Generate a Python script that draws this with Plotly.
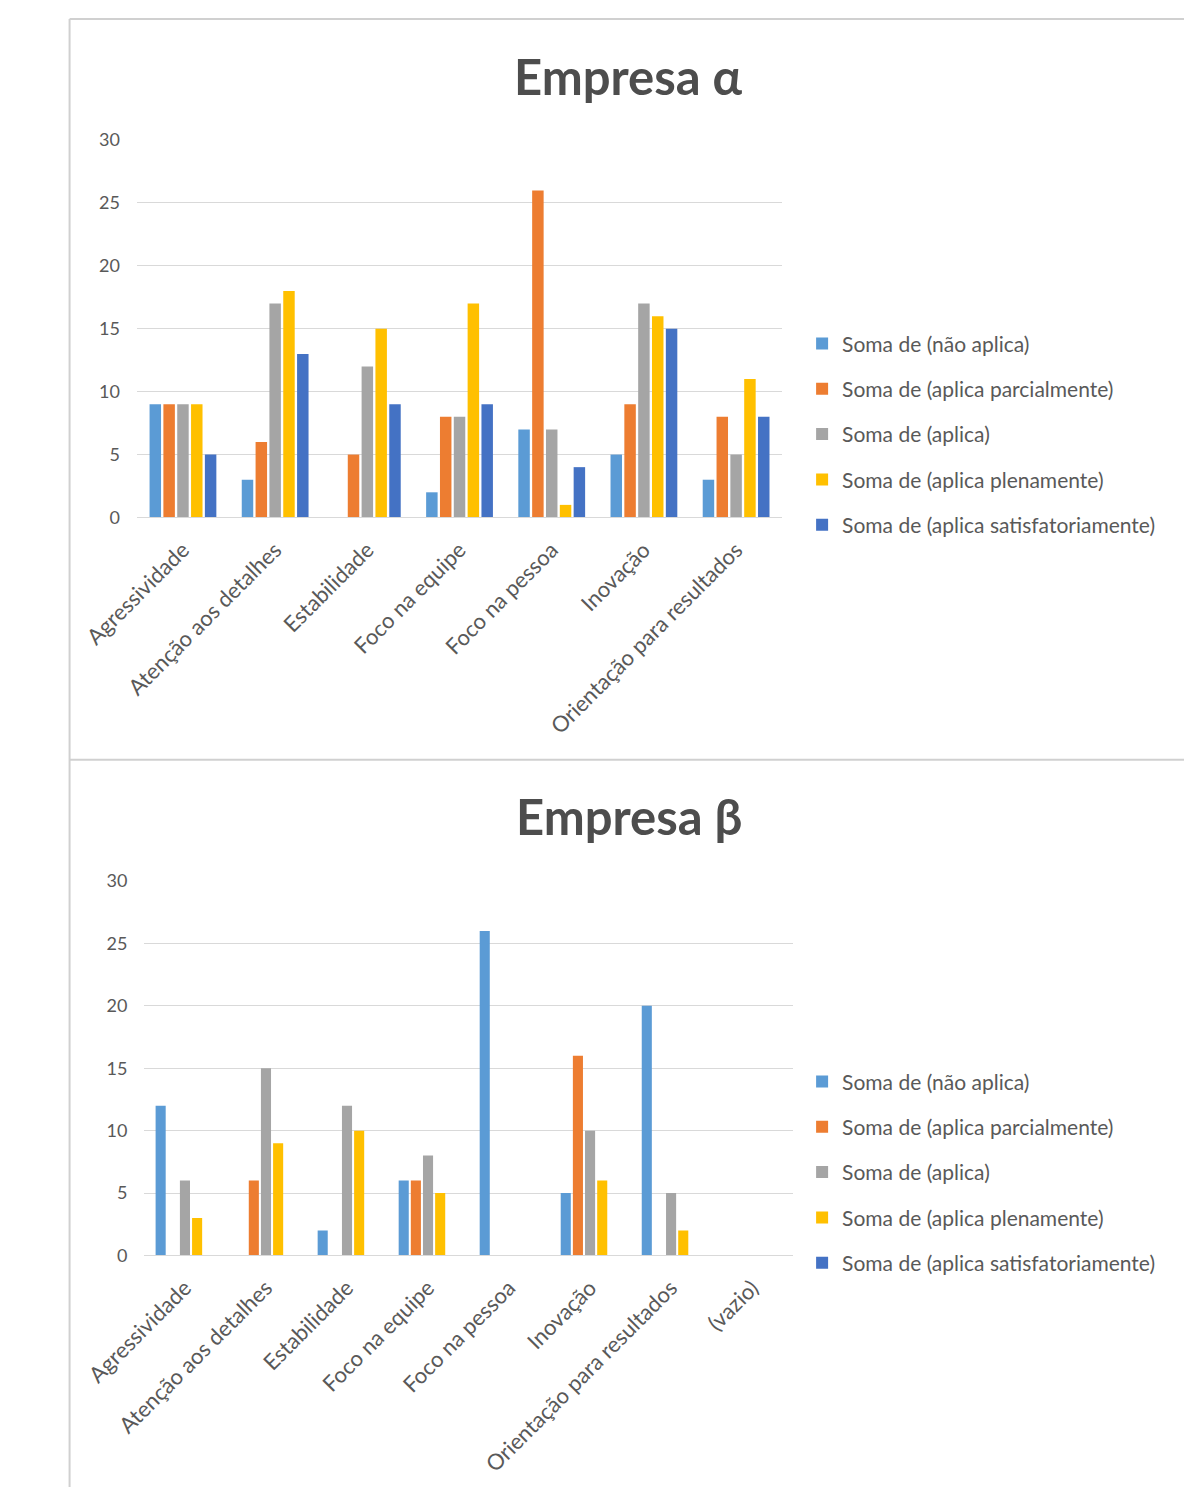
import plotly.graph_objects as go

# Categories for each company
categorias_alfa = ["Agressividade", "Atenção aos detalhes", "Estabilidade", "Foco na equipe",
                   "Foco na pessoa", "Inovação", "Orientação para resultados"]
categorias_beta = ["Agressividade", "Atenção aos detalhes", "Estabilidade", "Foco na equipe",
                   "Foco na pessoa", "Inovação", "Orientação para resultados", "(vazio)"]

series_nomes = ["Soma de (não aplica)", "Soma de (aplica parcialmente)", "Soma de (aplica)",
                "Soma de (aplica plenamente)", "Soma de (aplica satisfatoriamente)"]

# Empresa α values per series
alfa_nao_aplica = [9, 3, None, 2, 7, 5, 3]
alfa_parcial = [9, 6, 5, 8, 26, 9, 8]
alfa_aplica = [9, 17, 12, 8, 7, 17, 5]
alfa_plena = [9, 18, 15, 17, 1, 16, 11]
alfa_satisf = [5, 13, 9, 9, 4, 15, 8]

# Empresa β values per series
beta_nao_aplica = [12, None, 2, 6, 26, 5, 20, None]
beta_parcial = [None, 6, None, 6, None, 16, None, None]
beta_aplica = [6, 15, 12, 8, None, 10, 5, None]
beta_plena = [3, 9, 10, 5, None, 6, 2, None]
beta_satisf = [None, None, None, None, None, None, None, None]

y_ticks = [0, 5, 10, 15, 20, 25, 30]

cores = ["#5B9BD5", "#ED7D31", "#A5A5A5", "#FFC000", "#4472C4"]

W, H = 1184, 1497
FONT = "Lato"
TXT = "#595959"


def px(x):
    return x / W


def py(y):
    return 1 - y / H


fig = go.Figure()

alfa = [alfa_nao_aplica, alfa_parcial, alfa_aplica, alfa_plena, alfa_satisf]
beta = [beta_nao_aplica, beta_parcial, beta_aplica, beta_plena, beta_satisf]

for i, (nome, vals) in enumerate(zip(series_nomes, alfa)):
    fig.add_trace(go.Bar(x=categorias_alfa, y=vals, name=nome, marker_color=cores[i],
                         marker_line_width=0, xaxis="x", yaxis="y",
                         legend="legend", legendgroup=f"a{i}"))

for i, (nome, vals) in enumerate(zip(series_nomes, beta)):
    fig.add_trace(go.Bar(x=categorias_beta, y=vals, name=nome, marker_color=cores[i],
                         marker_line_width=0, xaxis="x2", yaxis="y2",
                         legend="legend2", legendgroup=f"b{i}"))

eixo_y = dict(range=[0, 30], tickvals=y_ticks, showgrid=True, gridcolor="#D9D9D9",
              gridwidth=1, zeroline=False, showline=False, ticks="",
              tickfont=dict(family=FONT, size=18, color=TXT), ticklabelstandoff=16)
eixo_x = dict(showgrid=False, showline=True, linecolor="#D9D9D9", linewidth=1,
              ticks="", tickangle=-45, ticklabelstandoff=10,
              tickfont=dict(family=FONT, size=22, color=TXT))

legenda = dict(x=px(781), xanchor="left", yanchor="top", bgcolor="rgba(0,0,0,0)",
               font=dict(family=FONT, size=21, color=TXT), tracegroupgap=15,
               itemwidth=30)

fig.update_layout(
    width=W, height=H,
    margin=dict(l=0, r=0, t=0, b=0),
    paper_bgcolor="white", plot_bgcolor="white",
    barmode="group", bargap=0.25, bargroupgap=0.17,
    xaxis=dict(domain=[px(79), px(760)], anchor="y", **eixo_x),
    yaxis=dict(domain=[py(513), py(130)], anchor="x", **eixo_y),
    xaxis2=dict(domain=[px(87), px(771)], anchor="y2", **eixo_x),
    yaxis2=dict(domain=[py(1262), py(882)], anchor="x2", **eixo_y),
    legend=dict(y=py(316), **legenda),
    legend2=dict(y=py(1065), **legenda),
    showlegend=True,
)

# Chart titles
for texto, yc in [("Empresa α", 65), ("Empresa β", 816)]:
    fig.add_annotation(text=f"<b>{texto}</b>", x=px(598), y=py(yc), xref="paper", yref="paper",
                       xanchor="center", yanchor="middle", showarrow=False,
                       font=dict(family=FONT, size=49, color="#4D4D4D"))

# Chart area frames
borda = dict(color="#D0D0D0", width=2)
fig.add_shape(type="line", xref="paper", yref="paper", x0=px(8), x1=1, y0=py(7), y1=py(7), line=borda)
fig.add_shape(type="line", xref="paper", yref="paper", x0=px(8), x1=px(8), y0=py(7), y1=0, line=borda)
fig.add_shape(type="line", xref="paper", yref="paper", x0=px(8), x1=1, y0=py(759), y1=py(759), line=borda)

fig.write_html("out.html")
